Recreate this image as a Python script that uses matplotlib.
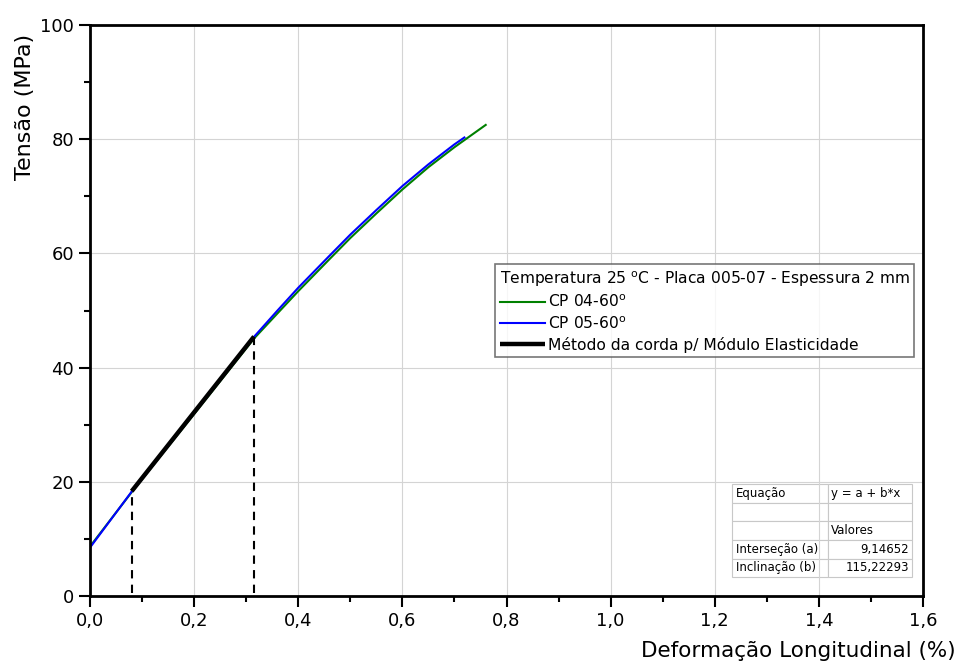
import matplotlib
matplotlib.use("Agg")
import matplotlib.pyplot as plt
from matplotlib.ticker import MultipleLocator, FuncFormatter

plt.rcParams['font.family'] = ['DejaVu Sans']

# curvas tensao x deformacao
cp05_x = [0.0, 0.08, 0.2, 0.315, 0.36, 0.4, 0.46, 0.5, 0.55, 0.6, 0.65, 0.7, 0.719]
cp05_y = [8.5, 18.3, 32.2, 45.4, 50.0, 54.0, 59.6, 63.3, 67.6, 71.8, 75.6, 79.1, 80.3]
cp04_x = [0.0, 0.08, 0.2, 0.315, 0.36, 0.4, 0.46, 0.5, 0.55, 0.6, 0.65, 0.7, 0.76]
cp04_y = [8.7, 18.2, 31.9, 45.1, 49.5, 53.4, 59.0, 62.7, 67.0, 71.2, 75.1, 78.6, 82.5]

# metodo da corda
a, b = 9.14652, 115.22293
corda_x = [0.08, 0.315]
corda_y = [a + b * x for x in corda_x]

tab_linhas = [["Equação", "y = a + b*x"],
              ["", ""],
              ["", "Valores"],
              ["Interseção (a)", "9,14652"],
              ["Inclinação (b)", "115,22293"]]

fig = plt.figure(figsize=(9.58, 6.66), dpi=100)
ax = fig.add_axes([0.094, 0.105, 0.8695, 0.8575])

ax.plot(cp04_x, cp04_y, color='green', lw=1.5, label='CP 04-60$^{\\mathrm{o}}$')
ax.plot(cp05_x, cp05_y, color='blue', lw=1.5, label='CP 05-60$^{\\mathrm{o}}$')
ax.plot(corda_x, corda_y, color='black', lw=3.2, solid_capstyle='butt',
        label='Método da corda p/ Módulo Elasticidade')
for xv, yv in zip(corda_x, corda_y):
    ax.plot([xv, xv], [0.5, yv], color='black', lw=1.5, ls=(0, (4, 3)))

ax.set_xlim(0, 1.6)
ax.set_ylim(0, 100)
ax.xaxis.set_major_locator(MultipleLocator(0.2))
ax.xaxis.set_minor_locator(MultipleLocator(0.1))
ax.yaxis.set_major_locator(MultipleLocator(20))
ax.yaxis.set_minor_locator(MultipleLocator(10))
ax.xaxis.set_major_formatter(FuncFormatter(lambda v, p: f"{v:.1f}".replace('.', ',')))
ax.yaxis.set_major_formatter(FuncFormatter(lambda v, p: f"{v:.0f}"))
ax.tick_params(which='major', direction='out', length=8, width=1.5, labelsize=13,
               top=False, right=False, colors='black')
ax.tick_params(which='minor', direction='out', length=4, width=1.5,
               top=False, right=False)
ax.grid(True, which='major', color='#d4d4d4', lw=0.8)
ax.set_axisbelow(True)
for s in ax.spines.values():
    s.set_linewidth(2)

fig.text(0.026, 0.84, 'Tensão (MPa)', rotation=90, ha='center', va='center', fontsize=16)
fig.text(0.997, 0.022, 'Deformação Longitudinal (%)', ha='right', va='center', fontsize=15.5)

leg = ax.legend(loc='upper left', bbox_to_anchor=(0.486, 0.581), fontsize=11.2,
                title='Temperatura 25 $^{\\mathrm{o}}$C - Placa 005-07 - Espessura 2 mm',
                title_fontsize=11.2, frameon=True, fancybox=False, edgecolor='#555555',
                handlelength=2.9, handletextpad=0.2, borderpad=0.3, labelspacing=0.32,
                borderaxespad=0)
leg._legend_box.align = 'left'
leg.get_frame().set_linewidth(1.2)

tab = ax.table(cellText=tab_linhas, cellLoc='left',
               bbox=[0.771, 0.033, 0.216, 0.163], colWidths=[0.53, 0.47])
tab.auto_set_font_size(False)
tab.set_fontsize(8.5)
for (r, c), cell in tab.get_celld().items():
    cell.set_edgecolor('#c8c8c8')
    cell.set_linewidth(0.8)
    cell.PAD = 0.04
    if c == 1 and r >= 3:
        cell.get_text().set_ha('right')
        cell._loc = 'right'

fig.savefig('out.png', dpi=100)
